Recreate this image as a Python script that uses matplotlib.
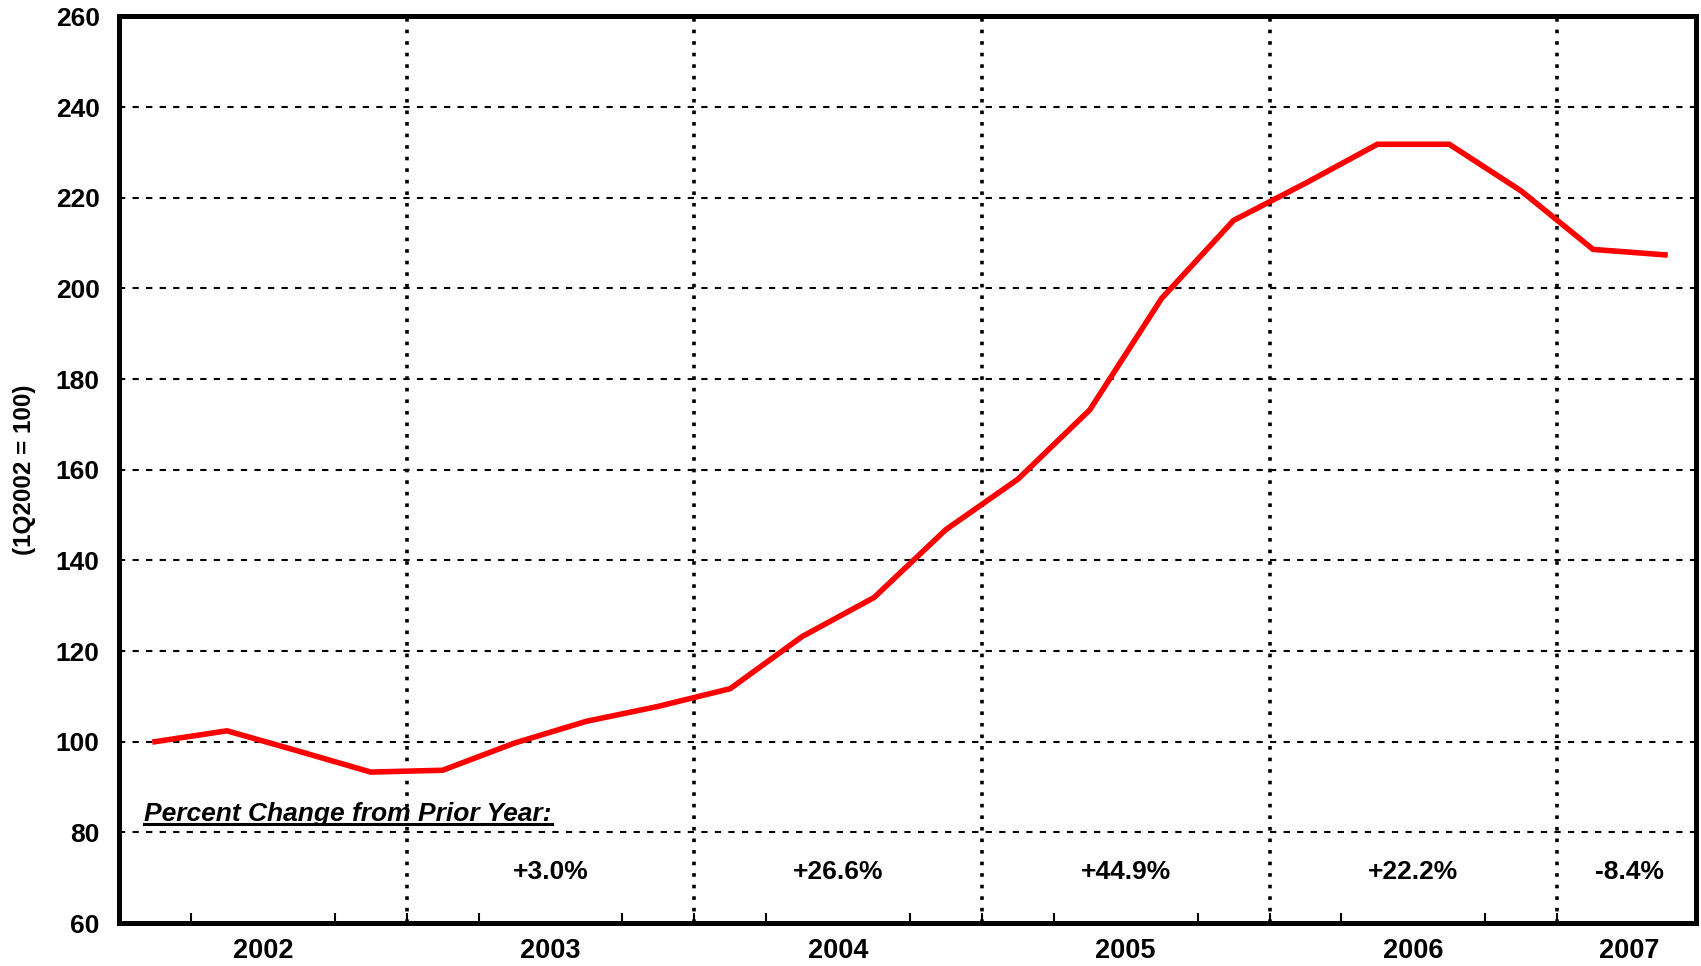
import matplotlib
matplotlib.use("Agg")
import matplotlib.pyplot as plt
from matplotlib.lines import Line2D

plt.rcParams['font.family'] = ['Liberation Sans', 'DejaVu Sans']
plt.rcParams['font.weight'] = 'bold'

# quarterly index values, 1Q2002 .. 2Q2007
index_values = [100.0, 102.4, 97.9, 93.3, 93.7, 99.7, 104.5, 107.8, 111.7, 123.2, 131.8,
                146.8, 157.9, 173.2, 197.8, 215.0, 223.2, 231.8, 231.8, 221.5, 208.6, 207.4]
years = ['2002', '2003', '2004', '2005', '2006', '2007']
year_changes = ['', '+3.0%', '+26.6%', '+44.9%', '+22.2%', '-8.4%']

def main():
    fig = plt.figure(figsize=(17.01, 9.66), dpi=100)
    ax = fig.add_axes([0.070, 0.0445, 0.927, 0.9385])

    nq = len(index_values)
    xs = [i + 0.5 for i in range(nq)]
    ax.set_xlim(0, nq - 0.07)
    ax.set_ylim(60, 260)

    # grid lines
    for yv in range(80, 260, 20):
        ax.axhline(yv, color='black', lw=1.5, ls=(0, (3, 3.5)), zorder=1)
    for xv in range(4, nq, 4):
        ax.axvline(xv, color='black', lw=2.6, ls=(0, (1, 2.2)), zorder=1)

    ax.plot(xs, index_values, color='#ff0000', lw=4.0, zorder=3, solid_joinstyle='miter')

    # year labels centred on the (visible part of the) year
    centers = []
    for k in range(len(years)):
        a = 4 * k
        b = min(4 * k + 4, nq)
        centers.append((a + b) / 2)
    ax.set_xticks(centers)
    ax.set_xticklabels(years, fontsize=19.5, fontweight='bold')
    ax.tick_params(axis='x', which='major', length=0, pad=11)
    ax.set_xticks([q for q in range(1, nq) if q % 4 != 0] + list(range(4, nq, 4)), minor=True)
    ax.tick_params(axis='x', which='minor', direction='in', length=7, width=1.5)

    ax.set_yticks(range(60, 261, 20))
    ax.set_yticklabels([str(v) for v in range(60, 261, 20)], fontsize=19, fontweight='bold')
    ax.tick_params(axis='y', length=0, pad=14)
    ax.set_ylabel('(1Q2002 = 100)', fontsize=17.5, fontweight='bold', labelpad=14)

    for s in ax.spines.values():
        s.set_linewidth(3.6)

    # percent change annotations
    hdr = ax.text(0.35, 84, 'Percent Change from Prior Year:', fontsize=19, fontweight='bold',
                  style='italic', ha='left', va='center', zorder=4)
    for c, t in zip(centers, year_changes):
        if t:
            ax.text(c, 71.3, t, fontsize=19, fontweight='bold', ha='center', va='center')

    # underline for the header
    fig.canvas.draw()
    bb = hdr.get_window_extent().transformed(fig.transFigure.inverted())
    fig.add_artist(Line2D([bb.x0, bb.x1], [bb.y0 + 0.002, bb.y0 + 0.002], color='black', lw=2.2,
                          transform=fig.transFigure))

    fig.savefig('out.png', dpi=100)


if __name__ == "__main__":
    main()
